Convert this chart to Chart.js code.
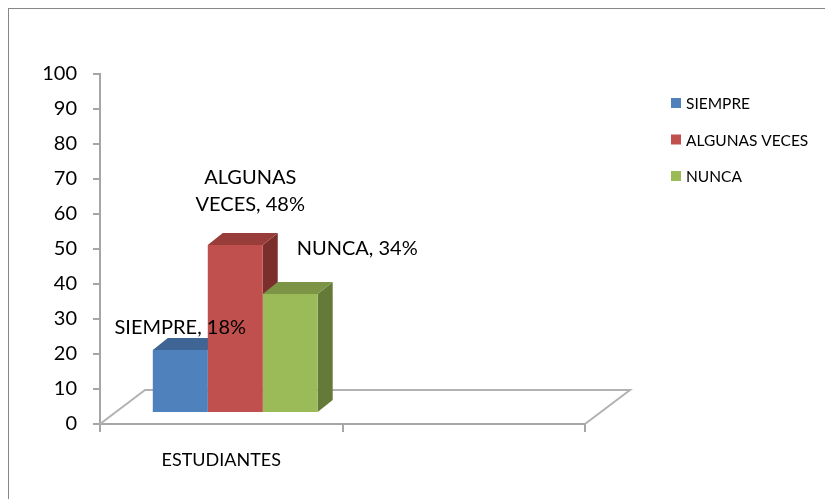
<!DOCTYPE html>
<html>
<head>
<meta charset="utf-8">
<script src="https://cdn.jsdelivr.net/npm/chart.js@4.4.1/dist/chart.umd.min.js"></script>
<style>
  html, body { margin: 0; padding: 0; background: #fff; }
  #wrap { position: relative; width: 825px; height: 499px; }
</style>
</head>
<body>
<div id="wrap"><canvas id="chart" width="825" height="499"></canvas></div>
<script>
const categories = ["ESTUDIANTES", ""];
const seriesNames = ["SIEMPRE", "ALGUNAS VECES", "NUNCA"];
const siempre = [18, null];
const algunasVeces = [48, null];
const nunca = [34, null];
const valueLabels = [["SIEMPRE, 18%"], ["ALGUNAS", "VECES, 48%"], ["NUNCA, 34%"]];
const yMin = 0, yMax = 100, yStep = 10;

const frontColors = ["#4f81bd", "#c0504d", "#9bbb59"];
const topColors = ["#3e6594", "#983d3a", "#7b9446"];
const sideColors = ["#365a84", "#7b2f2d", "#657a39"];

const FONT = "Lato, 'Open Sans', sans-serif";
const SHIFT = { x: 14, y: -11 };   // bars sit a bit back on the floor
const DEPTH = { x: 15, y: -12 };   // bar depth
const FLOOR = { x: 45, y: -34 };   // floor depth

const bars3d = {
  id: "bars3d",
  beforeDraw(chart) {
    const c = chart.ctx;
    c.save();
    c.strokeStyle = "#878787";
    c.lineWidth = 1;
    c.strokeRect(8.5, 8.5, 900, 600);
    c.restore();
  },
  beforeDatasetsDraw(chart) {
    const c = chart.ctx;
    const a = chart.chartArea;
    // floor
    c.save();
    c.strokeStyle = "#b2b2b2";
    c.lineWidth = 2;
    c.beginPath();
    c.moveTo(a.left, a.bottom);
    c.lineTo(a.left + FLOOR.x, a.bottom + FLOOR.y);
    c.lineTo(a.right + FLOOR.x, a.bottom + FLOOR.y);
    c.lineTo(a.right, a.bottom);
    c.stroke();
    c.restore();

    const bars = [];
    chart.data.datasets.forEach((ds, i) => {
      const el = chart.getDatasetMeta(i).data[0];
      if (!el) return;
      const l = el.x - el.width / 2 + SHIFT.x, r = el.x + el.width / 2 + SHIFT.x;
      bars.push({ i, l, r, t: el.y + SHIFT.y, b: el.base + SHIFT.y });
    });
    c.save();
    bars.forEach(p => {
      c.fillStyle = sideColors[p.i];
      c.beginPath();
      c.moveTo(p.r, p.t);
      c.lineTo(p.r + DEPTH.x, p.t + DEPTH.y);
      c.lineTo(p.r + DEPTH.x, p.b + DEPTH.y);
      c.lineTo(p.r, p.b);
      c.closePath();
      c.fill();
    });
    bars.forEach(p => {
      c.fillStyle = topColors[p.i];
      c.beginPath();
      c.moveTo(p.l, p.t);
      c.lineTo(p.l + DEPTH.x, p.t + DEPTH.y);
      c.lineTo(p.r + DEPTH.x, p.t + DEPTH.y);
      c.lineTo(p.r, p.t);
      c.closePath();
      c.fill();
    });
    c.restore();
    c.save();
    c.translate(SHIFT.x, SHIFT.y);
  },
  afterDatasetsDraw(chart) {
    const c = chart.ctx;
    c.restore();
    // value labels
    const offsets = [{ x: 0, y: -22 }, { x: 15, y: -40 }, { x: 67, y: -45 }];
    c.save();
    c.fillStyle = "#000";
    c.font = "20px " + FONT;
    c.textAlign = "center";
    c.textBaseline = "middle";
    chart.data.datasets.forEach((ds, i) => {
      const el = chart.getDatasetMeta(i).data[0];
      const lines = valueLabels[i];
      const cx = el.x + SHIFT.x + offsets[i].x;
      const cy = el.y + SHIFT.y + offsets[i].y;
      lines.forEach((txt, k) => {
        c.fillText(txt, cx, cy - (lines.length - 1 - k) * 27);
      });
    });
    // legend
    c.font = "15.5px " + FONT;
    c.textAlign = "left";
    chart.data.datasets.forEach((ds, i) => {
      const y = 103 + i * 36.5;
      c.fillStyle = frontColors[i];
      c.fillRect(671, y - 5, 10, 10);
      c.fillStyle = "#000";
      c.fillText(ds.label, 686, y + 1);
    });
    c.restore();
  }
};

new Chart(document.getElementById("chart"), {
  type: "bar",
  data: {
    labels: categories,
    datasets: [
      { label: seriesNames[0], data: siempre, backgroundColor: frontColors[0] },
      { label: seriesNames[1], data: algunasVeces, backgroundColor: frontColors[1] },
      { label: seriesNames[2], data: nunca, backgroundColor: frontColors[2] }
    ]
  },
  options: {
    responsive: false,
    animation: false,
    layout: { padding: { top: 74, right: 240, left: 0, bottom: 0 } },
    datasets: { bar: { categoryPercentage: 0.68, barPercentage: 1 } },
    plugins: {
      legend: { display: false },
      tooltip: { enabled: false },
      title: { display: false }
    },
    scales: {
      x: {
        afterFit: s => { s.height = 75; },
        grid: { display: true, drawOnChartArea: false, offset: true, tickLength: 8, color: "#a6a6a6", lineWidth: 2 },
        border: { color: "#a6a6a6", width: 2 },
        ticks: { color: "#000", font: { size: 18, family: FONT }, padding: 17 }
      },
      y: {
        min: yMin,
        max: yMax,
        afterFit: s => { s.width = 100; },
        grid: { display: true, drawOnChartArea: false, tickLength: 7, color: "#a6a6a6", lineWidth: 2 },
        border: { color: "#a6a6a6", width: 2 },
        ticks: { stepSize: yStep, color: "#000", font: { size: 20, family: FONT }, padding: 16 }
      }
    }
  },
  plugins: [bars3d]
});
</script>
</body>
</html>
